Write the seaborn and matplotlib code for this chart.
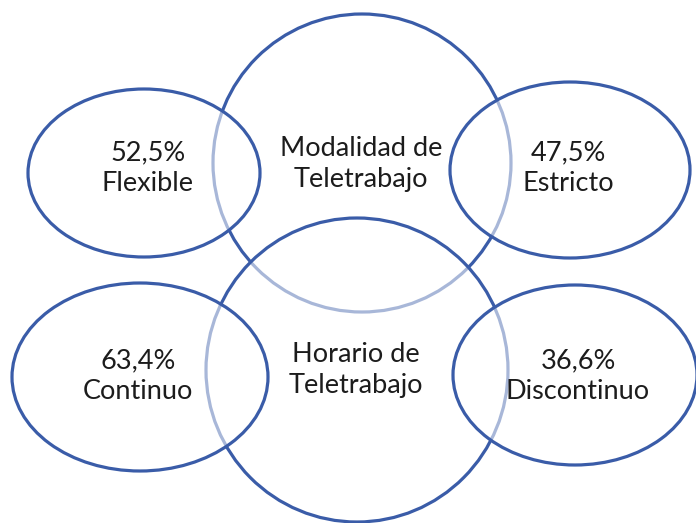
import matplotlib
matplotlib.use("Agg")
import matplotlib.pyplot as plt
from matplotlib.patches import Ellipse
import seaborn as sns

# ---- data ----
groups = ["Modalidad de\nTeletrabajo", "Horario de\nTeletrabajo"]
modalidad_labels = ["Flexible", "Estricto"]
modalidad_values = [52.5, 47.5]
horario_labels = ["Continuo", "Discontinuo"]
horario_values = [63.4, 36.6]

def fmt(v):
    return f"{v:.1f}%".replace(".", ",")

# ---- layout (pixel coordinates of the diagram) ----
W, H = 696, 523
# (cx, cy, width, height, text_x, text_y)
group_layout = [(362, 163, 298, 298, 361, 164), (357, 370, 302, 304, 356, 370)]
side_layout = [
    [(144, 173, 232, 168, 148, 168), (570, 170, 240, 176, 568, 168)],
    [(140, 377, 256, 188, 138, 376), (575, 375, 244, 180, 578, 376)],
]

sns.set_theme(style="white")
plt.rcParams["font.family"] = ["Lato", "DejaVu Sans"]

LINE = "#3a5ca8"
TXT = "#1c1c1c"
FILL_ALPHA = 0.56
FS = 19.5

fig = plt.figure(figsize=(W / 100, H / 100), dpi=100)
ax = fig.add_axes([0, 0, 1, 1])
ax.set_xlim(0, W)
ax.set_ylim(H, 0)
ax.set_axis_off()

def shape(cx, cy, w, h, z):
    ax.add_patch(Ellipse((cx, cy), w, h, facecolor=(1, 1, 1, FILL_ALPHA),
                         edgecolor=LINE, linewidth=2.3, zorder=z))

z = 1
all_labels = [modalidad_labels, horario_labels]
all_values = [modalidad_values, horario_values]
for gi, gname in enumerate(groups):
    cx, cy, w, h, tx, ty = group_layout[gi]
    shape(cx, cy, w, h, z); z += 1
    ax.text(tx, ty, gname, ha="center", va="center", fontsize=FS,
            color=TXT, linespacing=1.3, zorder=50)
    for si in range(2):
        scx, scy, sw, sh, stx, sty = side_layout[gi][si]
        shape(scx, scy, sw, sh, z); z += 1
        ax.text(stx, sty, fmt(all_values[gi][si]) + "\n" + all_labels[gi][si],
                ha="center", va="center", fontsize=FS, color=TXT,
                linespacing=1.3, zorder=50)

fig.savefig("out.png", dpi=100, facecolor="white")
